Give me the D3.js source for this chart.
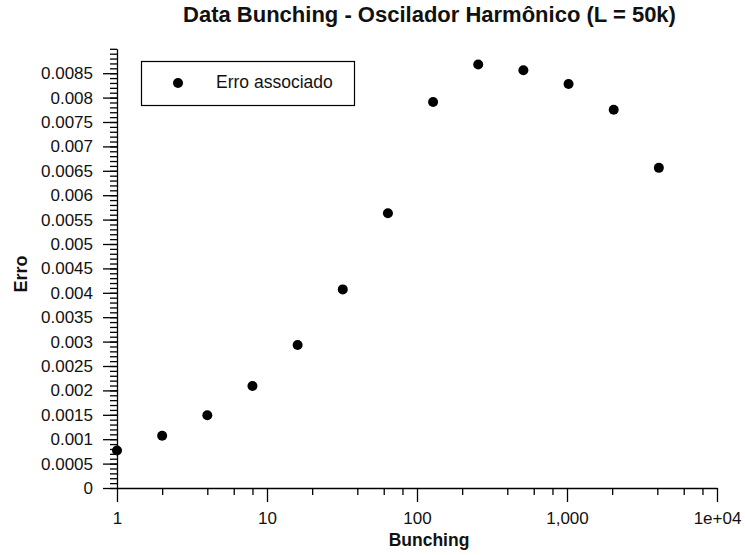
<!DOCTYPE html>
<html><head><meta charset="utf-8">
<script src="https://cdn.jsdelivr.net/npm/d3@7"></script>
<style>body{margin:0;background:#fff}svg{display:block}text{font-family:"Liberation Sans",Arial,sans-serif}</style>
</head><body>
<script>
const bunching = [1,2,4,8,16,32,64,128,256,512,1024,2048,4096];
const erro = [0.00077,0.00107,0.00149,0.00209,0.00293,0.00407,0.00563,0.00791,0.00868,0.00856,0.00828,0.00775,0.00656];
const xTickValues = [1,10,100,1000,10000];
const xTickLabels = ["1","10","100","1,000","1e+04"];
const yTickValues = [0,0.0005,0.001,0.0015,0.002,0.0025,0.003,0.0035,0.004,0.0045,0.005,0.0055,0.006,0.0065,0.007,0.0075,0.008,0.0085];
const yTickLabels = ["0","0.0005","0.001","0.0015","0.002","0.0025","0.003","0.0035","0.004","0.0045","0.005","0.0055","0.006","0.0065","0.007","0.0075","0.008","0.0085"];
const title = "Data Bunching - Oscilador Harmônico (L = 50k)";
const seriesName = "Erro associado";

const W=745,H=555;
const svg=d3.select("body").append("svg").attr("width",W).attr("height",H);
const x=d3.scaleLog().domain([1,10000]).range([117,717]);
const y=d3.scaleLinear().domain([0,0.009]).range([488,48.8]);

// x minor ticks
const xMinor=[];
for(let d=1;d<10000;d*=10){[2,4,6,8].forEach(m=>xMinor.push(d*m));}
svg.append("g").attr("transform","translate(0,488)")
  .call(d3.axisBottom(x).tickValues(xMinor).tickSize(7).tickFormat(""))
  .call(g=>g.select(".domain").remove());
const gx=svg.append("g").attr("transform","translate(0,488)")
  .call(d3.axisBottom(x).tickValues(xTickValues).tickSize(14).tickSizeOuter(0).tickPadding(10)
    .tickFormat((d,i)=>xTickLabels[i]));
gx.selectAll("text").attr("font-size","17px").attr("fill","#111");

// y minor
const yMinor=d3.range(0,91).map(i=>i*0.0001);
svg.append("g").attr("transform","translate(117,0)")
  .call(d3.axisLeft(y).tickValues(yMinor).tickSize(7).tickFormat(""))
  .call(g=>g.select(".domain").remove());
const gy=svg.append("g").attr("transform","translate(117,0)")
  .call(d3.axisLeft(y).tickValues(yTickValues).tickSize(14).tickSizeOuter(0).tickPadding(10)
    .tickFormat((d,i)=>yTickLabels[i]));
gy.selectAll("text").attr("font-size","17px").attr("fill","#111");
svg.selectAll(".domain,.tick line").attr("stroke","#000").attr("stroke-width",1.3);

// points
svg.append("g").selectAll("circle").data(bunching).join("circle")
  .attr("cx",d=>x(d)).attr("cy",(d,i)=>y(erro[i])).attr("r",5).attr("fill","#000");

// legend
svg.append("rect").attr("x",141.5).attr("y",61.5).attr("width",213).attr("height",44)
  .attr("fill","#fff").attr("stroke","#000").attr("stroke-width",1.2);
svg.append("circle").attr("cx",178).attr("cy",83).attr("r",5).attr("fill","#000");
svg.append("text").attr("x",216).attr("y",88).attr("font-size","17.5px").attr("fill","#111").text(seriesName);

// title and labels
svg.append("text").attr("x",429.5).attr("y",22).attr("text-anchor","middle").attr("font-size","22px")
  .attr("font-weight","bold").attr("fill","#111").text(title);
svg.append("text").attr("x",429).attr("y",546).attr("text-anchor","middle").attr("font-size","17.5px")
  .attr("font-weight","bold").attr("fill","#111").text("Bunching");
svg.append("text").attr("transform","translate(27,274) rotate(-90)").attr("text-anchor","middle")
  .attr("font-size","18px").attr("font-weight","bold").attr("fill","#111").text("Erro");
</script>
</body></html>
